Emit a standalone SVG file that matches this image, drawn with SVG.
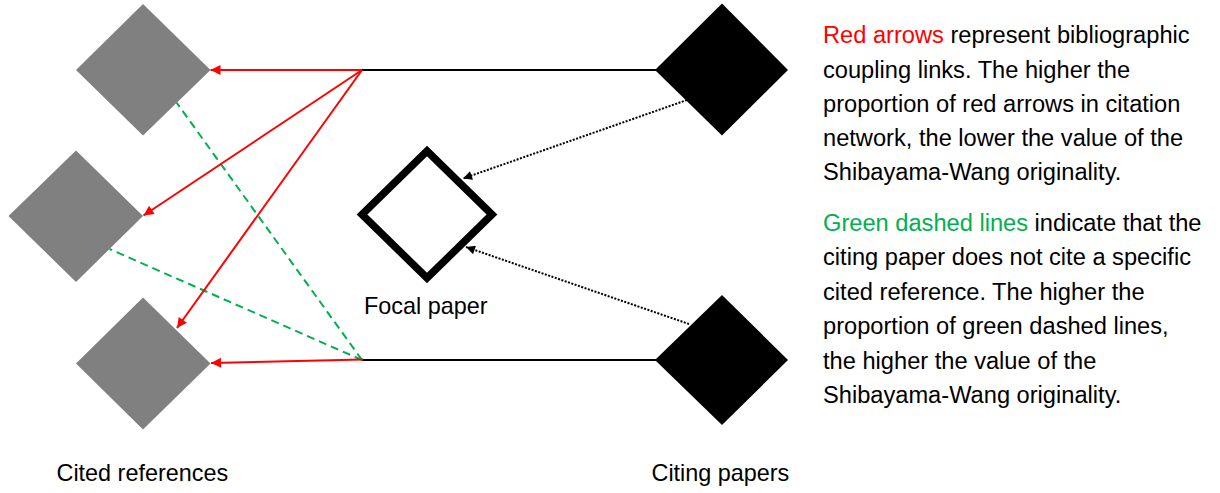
<svg xmlns="http://www.w3.org/2000/svg" width="1220" height="493" viewBox="0 0 1220 493">
<style>
text{font-family:"Liberation Sans",Arial,sans-serif;font-size:23.4px;fill:#000}
#legend text{font-size:23.65px}
.cited{fill:#808080}
.citing{fill:#000}
.focal{fill:#fff;stroke:#000;stroke-width:7.5}
.solid{stroke:#000;stroke-width:2;fill:none}
.red{stroke:#ff0000;stroke-width:2;fill:none;marker-end:url(#ar)}
.green{stroke:#00b050;stroke-width:2;fill:none;stroke-dasharray:8 5}
.dot{stroke:#000;stroke-width:2;fill:none;stroke-dasharray:2 1.5;marker-end:url(#ab)}
.r{fill:#ff0000}.g{fill:#00b050}
</style>
<defs>
<marker id="ar" viewBox="0 0 10 10" refX="10" refY="5" markerWidth="5.5" markerHeight="5" orient="auto" markerUnits="strokeWidth"><path d="M0,0L10,5L0,10z" fill="#ff0000"/></marker>
<marker id="ab" viewBox="0 0 10 10" refX="10" refY="5" markerWidth="5" markerHeight="4.5" orient="auto" markerUnits="strokeWidth"><path d="M0,0L10,5L0,10z" fill="#000"/></marker>
</defs>
<rect width="1220" height="493" fill="#fff"/>
<g id="connectors">
<line class="solid" x1="362" y1="70" x2="656" y2="70"/>
<line class="solid" x1="362" y1="360" x2="656" y2="360"/>
<line class="green" x1="362" y1="360" x2="176.5" y2="102.5"/>
<line class="green" x1="362" y1="360" x2="109.5" y2="249"/>
<line class="red" x1="362" y1="70" x2="210.5" y2="70"/>
<line class="red" x1="362" y1="70" x2="143.5" y2="215.5"/>
<line class="red" x1="362" y1="70" x2="177" y2="328"/>
<line class="red" x1="363" y1="359.5" x2="211" y2="363"/>
<line class="dot" x1="687" y1="100" x2="463" y2="178.5"/>
<line class="dot" x1="689" y1="324" x2="466" y2="247"/>
</g>
<g id="cited1"><polygon class="cited" points="143,4 210.5,70 143,135.5 76,70"/></g>
<g id="cited2"><polygon class="cited" points="76,150.5 143,216 76,282 8.5,216"/></g>
<g id="cited3"><polygon class="cited" points="143,297.5 210.5,363.5 143,429.5 76,363.5"/></g>
<g id="focal"><polygon class="focal" points="427,151 492,214.5 427,278 362,214.5"/></g>
<g id="citing1"><polygon class="citing" points="722,3.5 788,70 722,135.5 655,70"/></g>
<g id="citing2"><polygon class="citing" points="722,295 788,360 722,425 655,360"/></g>
<g id="labels">
<text x="56.5" y="480.5">Cited references</text>
<text x="364" y="314">Focal paper</text>
<text x="651.5" y="480.5">Citing papers</text>
</g>
<g id="legend">
<text x="823" y="43.3"><tspan class="r">Red arrows</tspan> represent bibliographic</text>
<text x="823" y="77.5">coupling links. The higher the</text>
<text x="823" y="111.8">proportion of red arrows in citation</text>
<text x="823" y="146.1">network, the lower the value of the</text>
<text x="823" y="180.4">Shibayama-Wang originality.</text>
<text x="823" y="230.5"><tspan class="g">Green dashed lines</tspan> indicate that the</text>
<text x="823" y="265">citing paper does not cite a specific</text>
<text x="823" y="299.5">cited reference. The higher the</text>
<text x="823" y="334">proportion of green dashed lines,</text>
<text x="823" y="368.5">the higher the value of the</text>
<text x="823" y="403">Shibayama-Wang originality.</text>
</g>
</svg>
